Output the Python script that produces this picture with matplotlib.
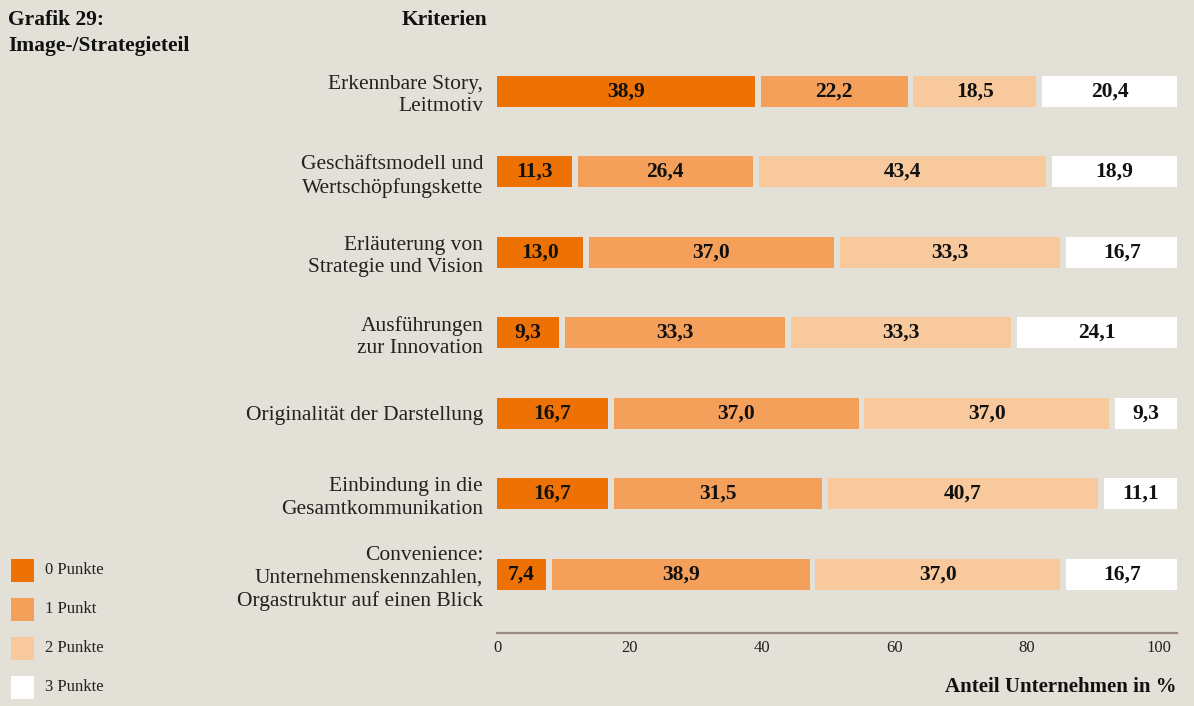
import matplotlib.pyplot as plt
from matplotlib.patches import Rectangle

plt.rcParams['font.family'] = ['Liberation Serif', 'DejaVu Serif']

categories = [
    "Erkennbare Story,\nLeitmotiv",
    "Geschäftsmodell und\nWertschöpfungskette",
    "Erläuterung von\nStrategie und Vision",
    "Ausführungen\nzur Innovation",
    "Originalität der Darstellung",
    "Einbindung in die\nGesamtkommunikation",
    "Convenience:\nUnternehmenskennzahlen,\nOrgastruktur auf einen Blick",
]
punkte_0 = [38.9, 11.3, 13.0, 9.3, 16.7, 16.7, 7.4]
punkte_1 = [22.2, 26.4, 37.0, 33.3, 37.0, 31.5, 38.9]
punkte_2 = [18.5, 43.4, 33.3, 33.3, 37.0, 40.7, 37.0]
punkte_3 = [20.4, 18.9, 16.7, 24.1, 9.3, 11.1, 16.7]
series_labels = ["0 Punkte", "1 Punkt", "2 Punkte", "3 Punkte"]
colors = ["#ee7203", "#f5a05a", "#f9c99e", "#ffffff"]
ticks = [0, 20, 40, 60, 80, 100]

bg = "#e3e0d8"
W, H = 1194, 706
fig = plt.figure(figsize=(W / 100, H / 100), dpi=100, facecolor=bg)

# axes in pixel terms
left, right, top, bottom = 497, 1177, 52, 633
ax = fig.add_axes([left / W, 1 - bottom / H, (right - left) / W, (bottom - top) / H])
ax.set_facecolor(bg)

gap = 0.9
series = [punkte_0, punkte_1, punkte_2, punkte_3]
y = list(range(len(categories)))
for i, cat in enumerate(categories):
    start = 0
    for k, s in enumerate(series):
        v = s[i]
        ax.barh(i, v, left=start, height=0.385, color=colors[k], linewidth=0)
        ax.text(start + v / 2, i, f"{v:.1f}".replace(".", ","), ha="center",
                va="center", fontsize=15.5, fontweight="bold", color="#111111")
        start += v + gap

ax.set_xlim(0, 100 + 3 * gap)
ax.set_ylim(6.728, -0.49)
ax.set_yticks(y)
ax.set_yticklabels(categories, fontsize=15.5, color="#222222", linespacing=1.25)
ax.tick_params(axis="y", length=0, pad=10)
ax.set_xticks(ticks)
ax.set_xticklabels([str(t) for t in ticks], fontsize=12, color="#222222")
ax.tick_params(axis="x", length=0, pad=5)
for sp in ["top", "right", "left"]:
    ax.spines[sp].set_visible(False)
ax.spines["bottom"].set_color("#9a8c80")
ax.spines["bottom"].set_linewidth(1.6)

fig.text(8 / W, 1 - 20 / H, "Grafik 29:", fontsize=15.5,
         fontweight="bold", va="center", ha="left", color="#111111")
fig.text(8 / W, 1 - 46 / H, "Image-/Strategieteil", fontsize=15.5,
         fontweight="bold", va="center", ha="left", color="#111111")
fig.text(487 / W, 1 - 20 / H, "Kriterien", fontsize=15.5, fontweight="bold",
         va="center", ha="right", color="#111111")
fig.text(1177 / W, 1 - 687 / H, "Anteil Unternehmen in %", fontsize=15,
         fontweight="bold", va="center", ha="right", color="#111111")

# legend
for k, lab in enumerate(series_labels):
    cy = 570 + k * 39
    fig.patches.append(Rectangle((11 / W, 1 - (cy + 11.5) / H), 23 / W, 23 / H,
                                 transform=fig.transFigure, color=colors[k], lw=0))
    fig.text(45 / W, 1 - cy / H, lab, fontsize=12, va="center", ha="left",
             color="#222222")

fig.savefig("out.png", dpi=100, facecolor=bg)
